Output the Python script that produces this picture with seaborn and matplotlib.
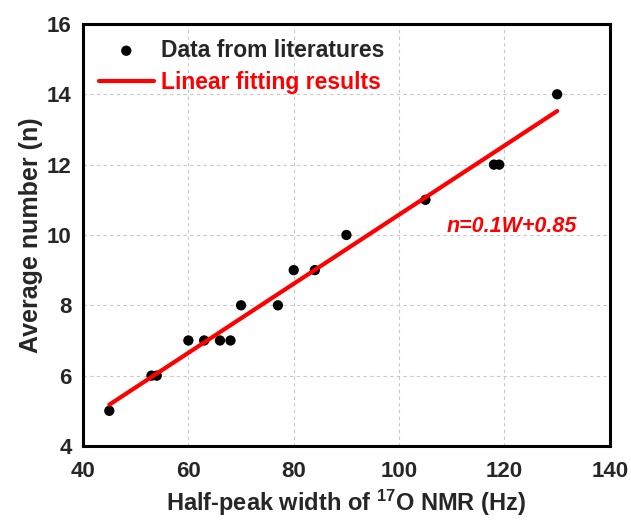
import matplotlib
matplotlib.use("Agg")
import matplotlib.pyplot as plt
import seaborn as sns
import pandas as pd
from matplotlib.ticker import MultipleLocator

# Data
half_peak_width = [45, 53, 54, 60, 63, 66, 68, 70, 77, 80, 84, 90, 105, 118, 119, 130]
average_number = [5, 6, 6, 7, 7, 7, 7, 8, 8, 9, 9, 10, 11, 12, 12, 14]
x_ticks = [40, 60, 80, 100, 120, 140]
y_ticks = [4, 6, 8, 10, 12, 14, 16]
equation_text = "n=0.1W+0.85"

df = pd.DataFrame({"W": half_peak_width, "n": average_number})

sns.set_style("white")
plt.rcParams["font.family"] = ["Liberation Sans", "DejaVu Sans"]
plt.rcParams["font.weight"] = "bold"

fig = plt.figure(figsize=(6.31, 5.21), dpi=100)
ax = fig.add_axes([0.1315, 0.144, 0.835, 0.81])

ax.grid(True, which="major", linestyle=(0, (3, 3)), color="#c8c8c8", linewidth=0.8)
ax.set_axisbelow(True)

sns.regplot(data=df, x="W", y="n", scatter=False, ci=None, truncate=True,
            color="#ff0000", label="Linear fitting results",
            line_kws={"linewidth": 3, "zorder": 3}, ax=ax)
sns.scatterplot(data=df, x="W", y="n", color="black", s=55, edgecolor="none",
                label="Data from literatures", zorder=2, ax=ax)

ax.set_xlim(40, 140)
ax.set_ylim(4, 16)
ax.set_xticks(x_ticks)
ax.set_yticks(y_ticks)
ax.xaxis.set_minor_locator(MultipleLocator(10))
ax.yaxis.set_minor_locator(MultipleLocator(1))
ax.tick_params(which="major", direction="out", length=5, width=2, labelsize=16, pad=3)
ax.tick_params(axis="x", which="major", pad=6)
ax.tick_params(which="minor", direction="out", length=3, width=2)
for lbl in ax.get_xticklabels() + ax.get_yticklabels():
    lbl.set_fontweight("bold")

for sp in ax.spines.values():
    sp.set_linewidth(2.2)
    sp.set_color("black")

ax.set_xlabel("Half-peak width of $\\mathregular{^{17}}$O NMR (Hz)", fontsize=17,
              fontweight="bold", labelpad=4)
ax.set_ylabel("Average number (n)", fontsize=18, fontweight="bold", labelpad=3)

handles, labels = ax.get_legend_handles_labels()
order = [labels.index("Data from literatures"), labels.index("Linear fitting results")]
leg = ax.legend([handles[i] for i in order], [labels[i] for i in order],
                loc="upper left", frameon=False, prop={"size": 16.5, "weight": "bold"},
                handlelength=2.4, handletextpad=0.3, labelspacing=0.4,
                borderpad=0, borderaxespad=0, bbox_to_anchor=(0.03, 0.965))
leg.get_texts()[1].set_color("#ff0000")

ax.text(109, 10.25, equation_text, color="#ff0000", fontsize=15.5, fontweight="bold",
        fontstyle="italic", ha="left", va="center")

fig.savefig("out.png", dpi=100)
